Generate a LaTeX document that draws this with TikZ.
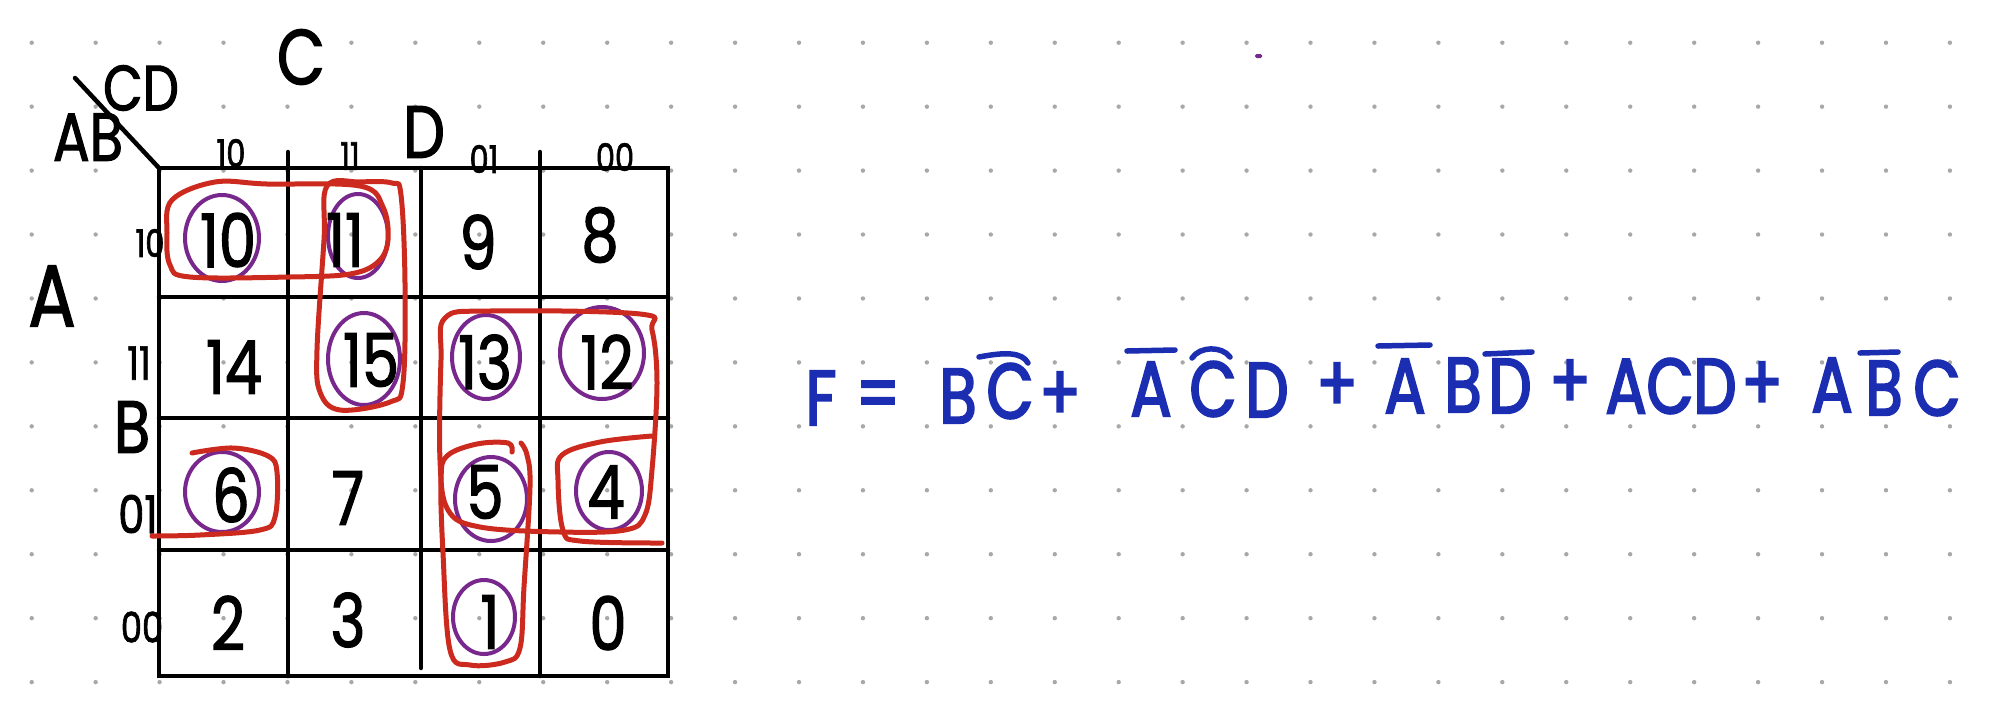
\documentclass[tikz,border=0pt]{standalone}
\usepackage{fontspec}
\newfontfamily\hand{Poppins}[FakeStretch=0.8, FakeBold=1.6]
\newfontfamily\handb{Poppins}[FakeStretch=0.78, FakeBold=2.6]
\definecolor{penred}{HTML}{CC2A1E}
\definecolor{penpurple}{HTML}{78288C}
\definecolor{penblue}{HTML}{1B2DB0}
\definecolor{dotgray}{HTML}{A8A8A8}
\tikzset{
  gridline/.style={line width=4.5pt, black, line cap=round},
  loopred/.style={line width=5pt, penred, line cap=round, line join=round},
  ringpurple/.style={line width=4pt, penpurple},
  cellnum/.style={inner sep=0pt, font=\hand\fontsize{74pt}{74pt}\selectfont},
  biglabel/.style={inner sep=0pt, font=\hand\fontsize{74pt}{74pt}\selectfont},
  smalllabel/.style={inner sep=0pt, font=\hand\fontsize{38pt}{38pt}\selectfont},
  fml/.style={inner sep=0pt, text=penblue, font=\handb\fontsize{78pt}{78pt}\selectfont},
  bar/.style={line width=5.5pt, penblue, line cap=round}
}
\begin{document}
\begin{tikzpicture}[x=1pt,y=-1pt]
\useasboundingbox[fill=white] (0,0) rectangle (1996,724);
% dotted paper
\foreach \i in {0,...,30}{\foreach \j in {0,...,10}{
  \fill[dotgray] ({31.7+63.94*\i},{42.7+63.94*\j}) circle (2.2pt);}}
\fill[penpurple, rounded corners=1.5pt] (1255,54) rectangle (1262,58);
% grid corners
\coordinate (g00) at (159,168); \coordinate (g40) at (668,168);
\coordinate (g04) at (159,676); \coordinate (g44) at (668,676);
\coordinate (diag) at (75,78);
% grid
\draw[gridline] (g00) -- (g40) -- (g44) -- (g04) -- cycle;
\draw[gridline] (288,152) -- (288,676);
\draw[gridline] (421,168) -- (421,668);
\draw[gridline] (540,152) -- (540,676);
\draw[gridline] (159,297) -- (665,297);
\draw[gridline] (159,418) -- (668,418);
\draw[gridline] (159,550) -- (668,550);
\draw[gridline] (diag) -- (g00);
% header labels
\node[biglabel, font=\hand\fontsize{78pt}{78pt}\selectfont] (lC) at (301,57) {C};
\node[biglabel, font=\hand\fontsize{64pt}{64pt}\selectfont] (lCD) at (141,88) {CD};
\node[biglabel, font=\hand\fontsize{68pt}{68pt}\selectfont] (lAB) at (88,137) {AB};
\node[biglabel] (lD) at (424,132) {D};
\node[biglabel, font=\hand\fontsize{88pt}{88pt}\selectfont] (lA) at (52,296) {A};
\node[biglabel] (lB) at (132,427) {B};
\node[smalllabel] (c10) at (231,153) {10};
\node[smalllabel] (c11) at (350,156) {11};
\node[smalllabel] (c01) at (484,159) {01};
\node[smalllabel] (c00) at (615,157) {00};
\node[smalllabel] (r10) at (150,243) {10};
\node[smalllabel, font=\hand\fontsize{46pt}{46pt}\selectfont] (r11) at (139,363) {11};
\node[smalllabel, font=\hand\fontsize{52pt}{52pt}\selectfont] (r01) at (138,514) {01};
\node[smalllabel, font=\hand\fontsize{42pt}{42pt}\selectfont] (r00) at (142,627) {00};
% purple rings
\draw[ringpurple] (222,238) ellipse [x radius=37pt, y radius=43pt];
\draw[ringpurple] (358,236) ellipse [x radius=30pt, y radius=42pt];
\draw[ringpurple] (364,359) ellipse [x radius=36pt, y radius=46pt];
\draw[ringpurple] (486,357) ellipse [x radius=34pt, y radius=42pt];
\draw[ringpurple] (602,353) ellipse [x radius=42pt, y radius=46pt];
\draw[ringpurple] (222,492) ellipse [x radius=37pt, y radius=40pt];
\draw[ringpurple] (491,499) ellipse [x radius=36pt, y radius=42pt];
\draw[ringpurple] (609,491) ellipse [x radius=33pt, y radius=39pt];
\draw[ringpurple] (484,617) ellipse [x radius=31pt, y radius=37pt];
% cell numbers
\node[cellnum] (n10) at (228,240) {10};
\node[cellnum] (n11) at (345,240) {11};
\node[cellnum] (n9)  at (478,242) {9};
\node[cellnum] (n8)  at (600,235) {8};
\node[cellnum] (n14) at (234,367) {14};
\node[cellnum] (n15) at (371,360) {15};
\node[cellnum] (n13) at (485,362) {13};
\node[cellnum] (n12) at (607,362) {12};
\node[cellnum] (n6)  at (231,495) {6};
\node[cellnum] (n7)  at (348,498) {7};
\node[cellnum] (n5)  at (485,492) {5};
\node[cellnum] (n4)  at (606,492) {4};
\node[cellnum] (n2)  at (228,623) {2};
\node[cellnum] (n3)  at (348,620) {3};
\node[cellnum] (n1)  at (490,622) {1};
\node[cellnum] (n0)  at (608,623) {0};
% red groupings
\draw[loopred] plot[smooth cycle, tension=0.6] coordinates {(167,233) (172,200) (215,182) (267,184) (360,186) (383,207) (388,240) (378,262) (350,274) (290,277) (190,277) (170,265)};
\draw[loopred] plot[smooth cycle, tension=0.6] coordinates {(327,186) (360,182) (392,183) (401,195) (405,283) (403,383) (390,402) (340,410) (320,392) (317,350) (324,240)};
\draw[loopred] plot[smooth cycle, tension=0.6] coordinates {(445,318) (490,311) (640,314) (652,330) (657,383) (652,470) (645,515) (625,530) (560,532) (480,527) (448,510) (440,460) (441,360)};
\draw[loopred] plot[smooth, tension=0.6] coordinates {(512,452) (508,443) (477,444) (447,456) (441,480) (443,553) (450,650) (470,665) (505,662) (520,648) (524,587) (530,487) (527,455) (521,443)};
\draw[loopred] plot[smooth, tension=0.6] coordinates {(652,436) (600,442) (562,455) (558,480) (563,530) (580,541) (662,543)};
\draw[loopred] plot[smooth, tension=0.6] coordinates {(192,453) (233,448) (268,456) (277,472) (275,517) (260,530) (200,535) (152,536)};
% formula
\node[fml] (fF) at (821,398) {F};
\node[fml] (fEq) at (878,401) {=};
\node[fml] (t1B) at (958,396) {B};
\node[fml] (t1C) at (1010,391) {C};
\node[fml] (p1) at (1060,396) {+};
\node[fml] (t2A) at (1151,389) {A};
\node[fml] (t2C) at (1213,389) {C};
\node[fml] (t2D) at (1267,390) {D};
\node[fml] (p2) at (1337,387) {+};
\node[fml] (t3A) at (1405,386) {A};
\node[fml] (t3B) at (1463,385) {B};
\node[fml] (t3D) at (1510,386) {D};
\node[fml] (p3) at (1570,384) {+};
\node[fml] (t4) at (1671,386) {ACD};
\node[fml] (p4) at (1762,386) {+};
\node[fml] (t5A) at (1832,385) {A};
\node[fml] (t5B) at (1884,388) {B};
\node[fml] (t5C) at (1937,388) {C};
% overbars
\draw[bar] (979,357) .. controls (1005,352) and (1022,352) .. (1028,363);
\draw[bar] (1127,351) -- (1175,350);
\draw[bar] (1192,358) .. controls (1200,346) and (1222,346) .. (1230,357);
\draw[bar] (1378,346) -- (1430,345);
\draw[bar] (1485,354) -- (1532,352);
\draw[bar] (1860,353) -- (1898,352);
\end{tikzpicture}
\end{document}
